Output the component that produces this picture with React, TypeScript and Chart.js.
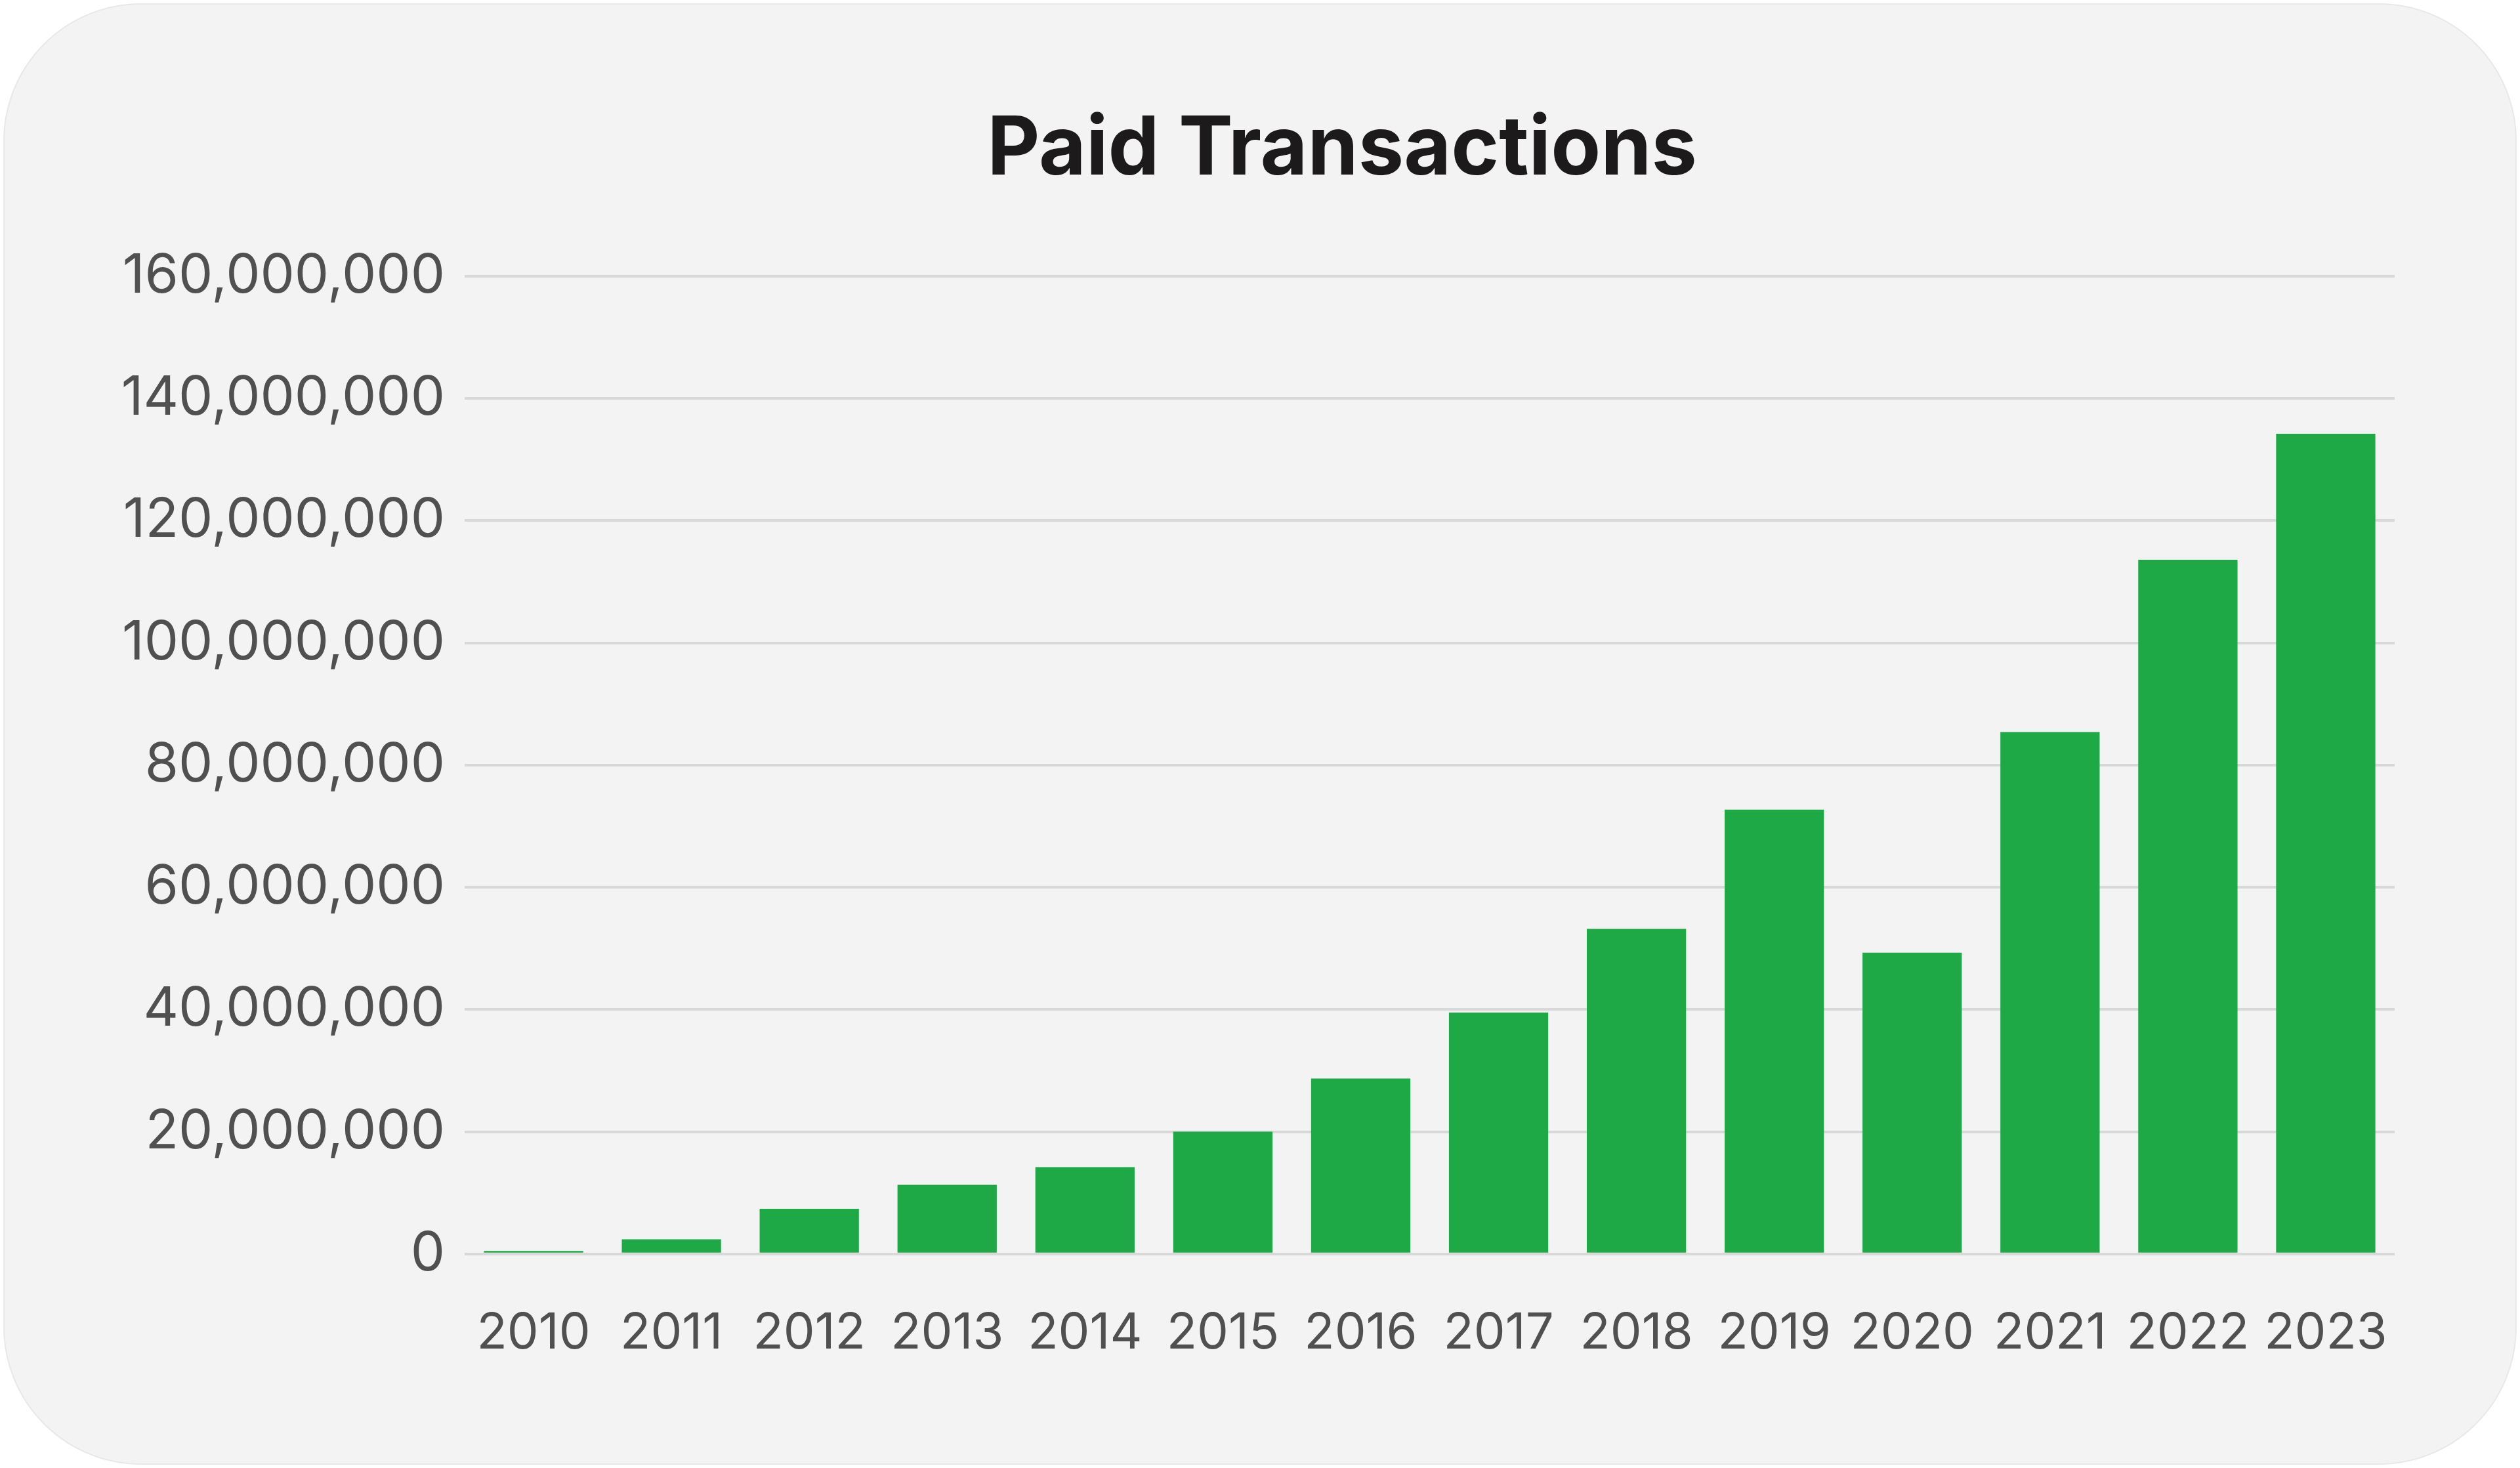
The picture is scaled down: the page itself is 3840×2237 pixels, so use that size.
import { useEffect, useRef } from 'react';
import { Chart, registerables } from 'chart.js';

Chart.register(...registerables);

const years = ['2010', '2011', '2012', '2013', '2014', '2015', '2016', '2017', '2018', '2019', '2020', '2021', '2022', '2023'];
const paidTransactions = [
  500000, 2400000, 7400000, 11300000, 14200000, 20000000, 28700000,
  39500000, 53200000, 72700000, 49300000, 85400000, 113600000, 134200000,
];
const yMax = 160000000;
const yStep = 20000000;

const FONT = "Inter, 'Noto Sans', sans-serif";

// the original title sits a bit right of the canvas centre
const titleShift = {
  id: 'titleShift',
  afterLayout(chart: any) {
    const t = chart.titleBlock;
    if (t) {
      t.left += 132;
      t.right += 132;
    }
  },
};

function PaidTransactionsChart() {
  const canvasRef = useRef<HTMLCanvasElement>(null);
  const chartRef = useRef<Chart | null>(null);

  useEffect(() => {
    if (!canvasRef.current) return;
    const ctx = canvasRef.current.getContext('2d');
    if (!ctx) return;

    chartRef.current = new Chart(ctx, {
      type: 'bar',
      data: {
        labels: years,
        datasets: [
          {
            label: 'Paid Transactions',
            data: paidTransactions,
            backgroundColor: '#1fa846',
            borderWidth: 0,
          },
        ],
      },
      options: {
        animation: false,
        responsive: true,
        maintainAspectRatio: false,
        layout: {
          padding: { top: 0, left: 170, right: 184, bottom: 84 },
        },
        plugins: {
          legend: { display: false },
          tooltip: { enabled: false },
          title: {
            display: true,
            text: 'Paid Transactions',
            color: '#1c1a1a',
            font: { family: FONT, size: 124, weight: 'bold' },
            padding: { top: 147, bottom: 118 },
          },
        },
        scales: {
          x: {
            grid: { display: false },
            border: { display: false },
            ticks: {
              color: '#505050',
              padding: 68,
              maxRotation: 0,
              autoSkip: false,
              font: { family: FONT, size: 76 },
            },
          },
          y: {
            min: 0,
            max: yMax,
            afterFit: (scale) => {
              scale.width = 531;
            },
            grid: {
              color: '#d8d8d8',
              lineWidth: 4,
              drawTicks: false,
            },
            border: { display: false },
            ticks: {
              stepSize: yStep,
              color: '#505050',
              padding: 30,
              font: { family: FONT, size: 83 },
              callback: (v) => Number(v).toLocaleString('en-US'),
            },
          },
        },
      },
      plugins: [titleShift],
    });

    return () => {
      if (chartRef.current) {
        chartRef.current.destroy();
        chartRef.current = null;
      }
    };
  }, []);

  return (
    <div
      style={{
        position: 'fixed',
        left: 5,
        top: 5,
        right: 5,
        bottom: 5,
        background: '#f3f3f3',
        border: '2px solid #e8e8e8',
        borderRadius: 210,
        overflow: 'hidden',
      }}
    >
      <div style={{ position: 'absolute', inset: 0 }}>
        <canvas ref={canvasRef}></canvas>
      </div>
    </div>
  );
}

export default function App() {
  return <PaidTransactionsChart />;
}
